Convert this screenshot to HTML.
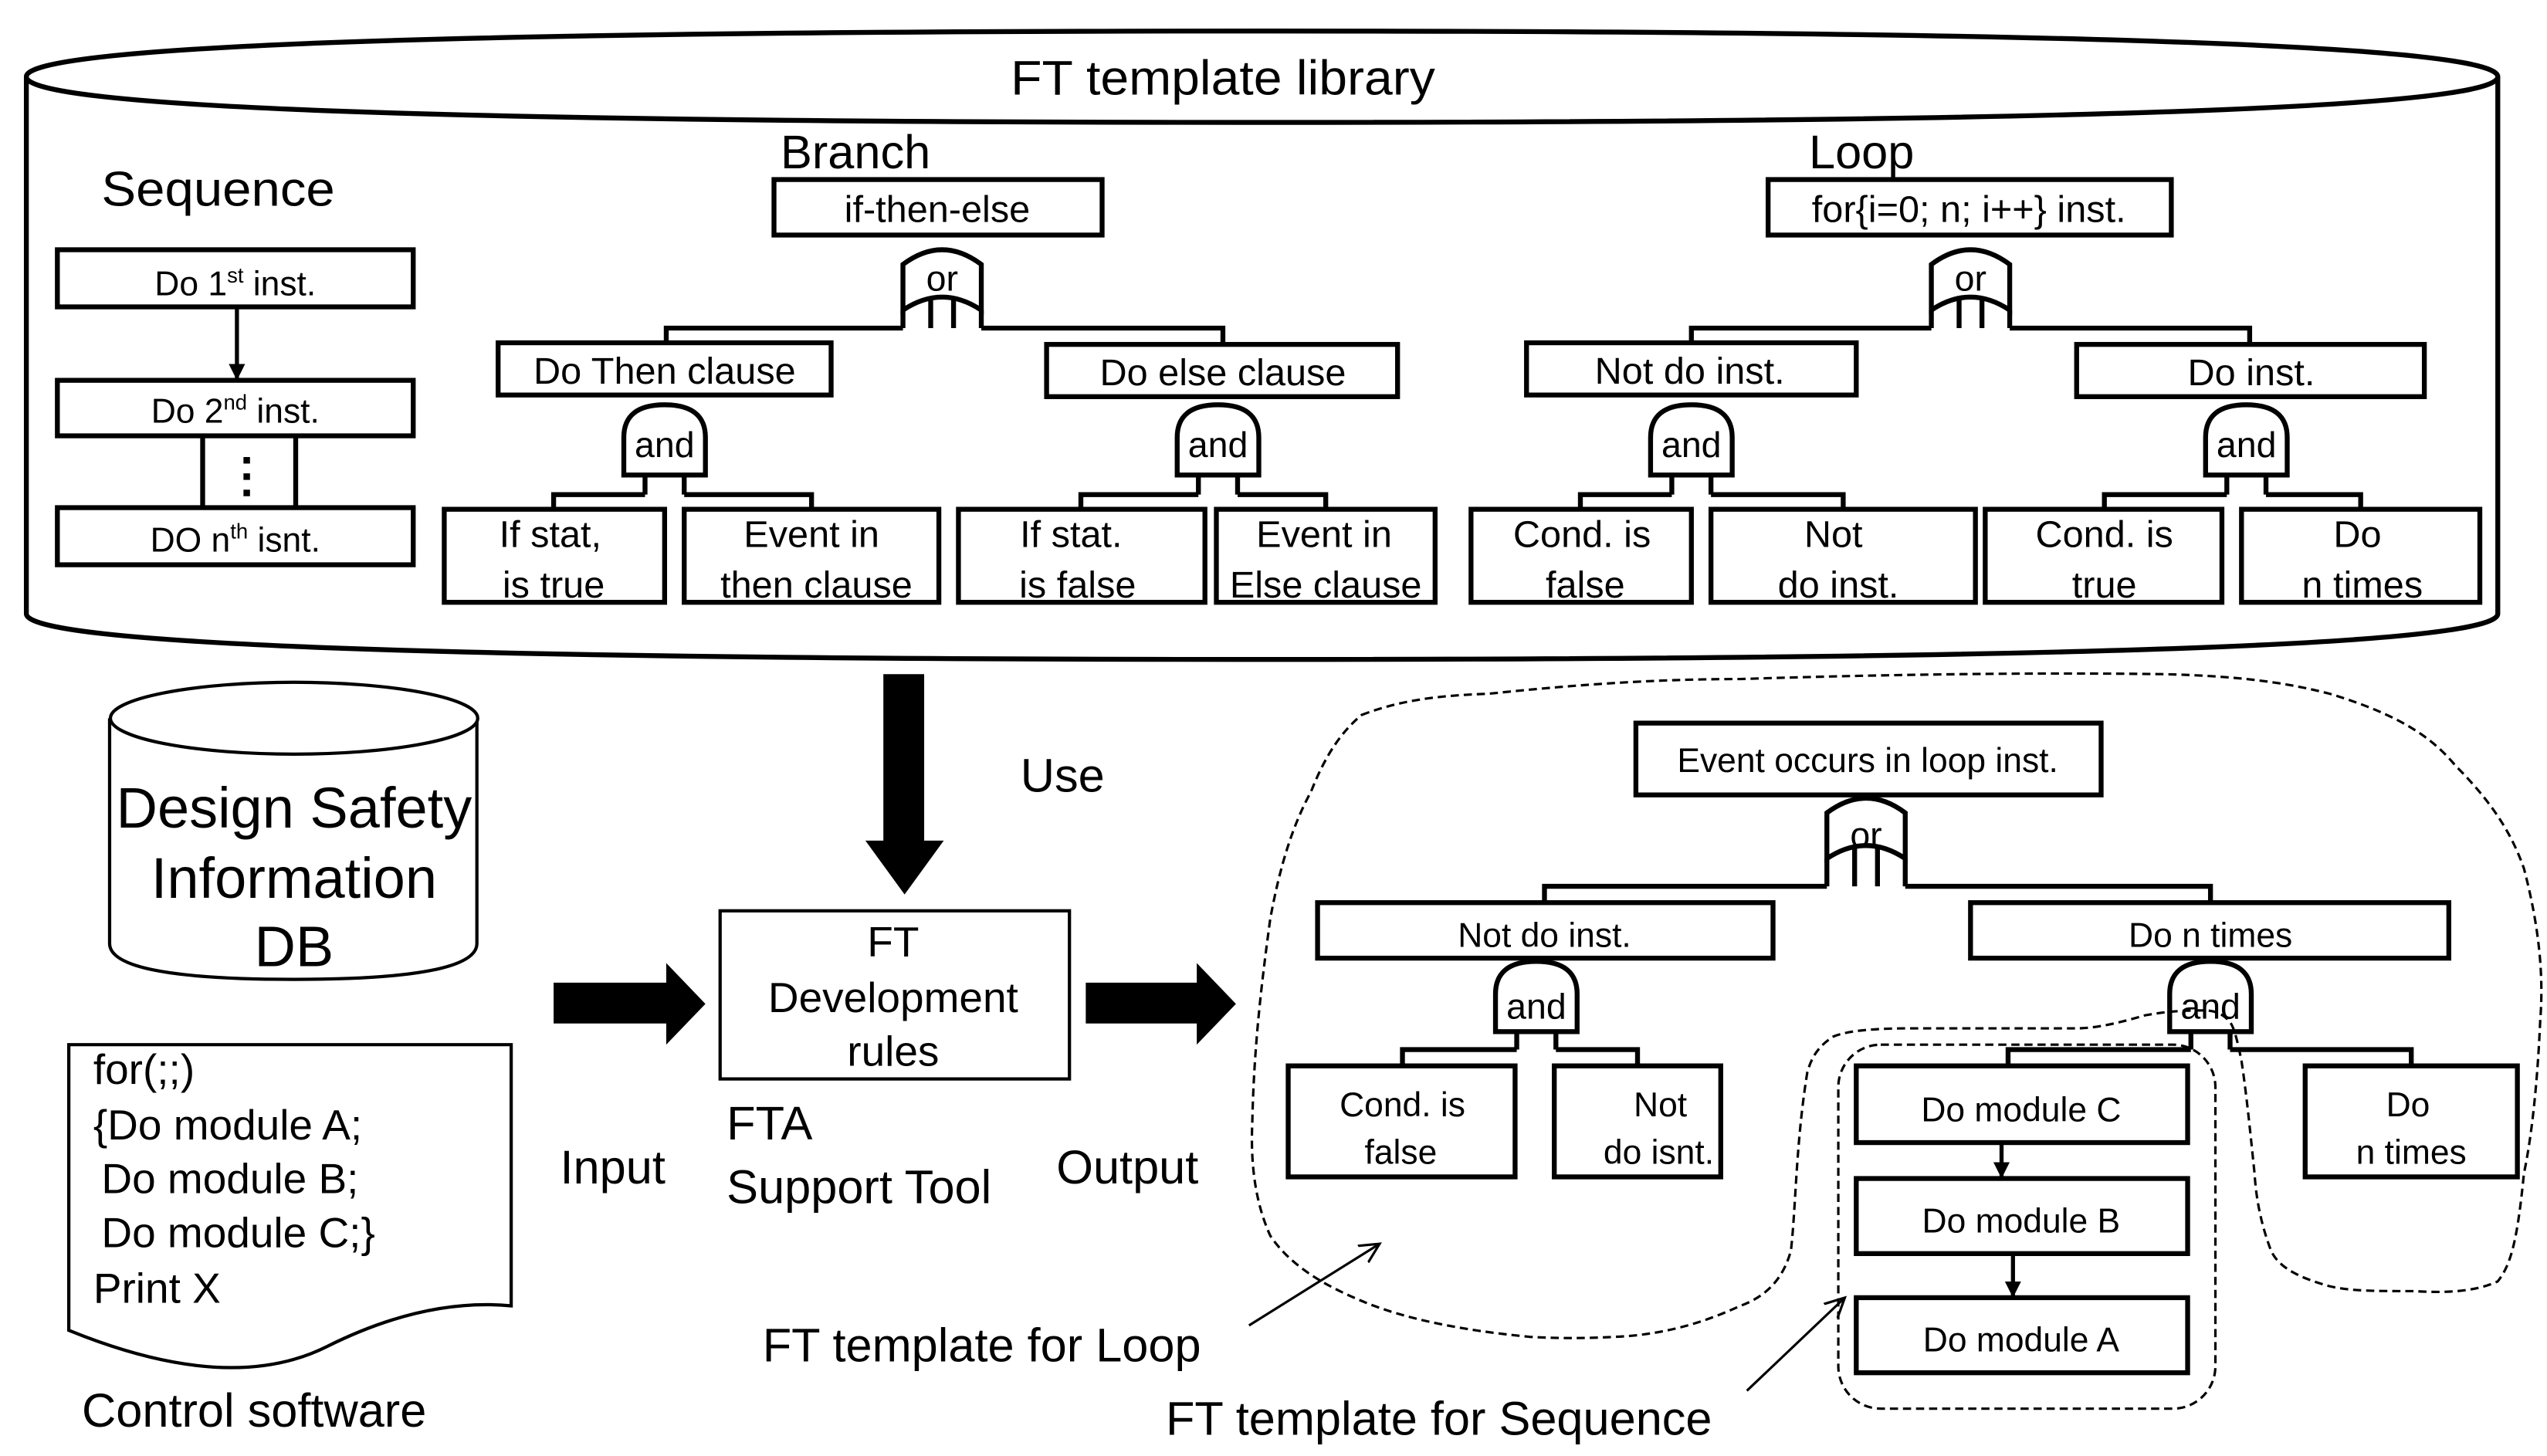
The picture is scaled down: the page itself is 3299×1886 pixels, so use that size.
<!DOCTYPE html>
<html><head><meta charset="utf-8"><style>
html,body{margin:0;padding:0;background:#fff;}
svg{display:block;}
text{font-family:"Liberation Sans",Arial,sans-serif;fill:#000;}
</style></head><body>
<svg width="3299" height="1886" viewBox="0 0 1560 892" xmlns="http://www.w3.org/2000/svg">
<defs>
<marker id="ah" markerWidth="10" markerHeight="10" refX="9" refY="5" orient="auto" markerUnits="userSpaceOnUse"><path d="M0,0 L10,5 L0,10 Z" fill="#000"/></marker>
<marker id="oa" markerWidth="14" markerHeight="14" refX="12" refY="7" orient="auto" markerUnits="userSpaceOnUse"><path d="M0,1 L12,7 L0,13" fill="none" stroke="#000" stroke-width="1.5"/></marker>
</defs>
<rect width="1560" height="892" fill="#fff"/>

<!-- Big cylinder -->
<g fill="none" stroke="#000" stroke-width="3">
<path d="M16,47 Q16,19 773,19 Q1530,19 1530,47 Q1530,75 773,75 Q16,75 16,47 Z" fill="#fff"/>
<path d="M16,47 V376 Q16,404 773,404 Q1530,404 1530,376 V47"/>
</g>
<text x="749" y="58" font-size="30" text-anchor="middle" textLength="260" lengthAdjust="spacingAndGlyphs">FT template library</text>

<!-- Sequence -->
<text x="62" y="126" font-size="30" textLength="143" lengthAdjust="spacingAndGlyphs">Sequence</text>
<g fill="#fff" stroke="#000" stroke-width="3">
<rect x="35" y="153" width="218" height="35"/>
<rect x="35" y="233" width="218" height="34"/>
<rect x="35" y="311" width="218" height="35"/>
</g>
<line x1="145" y1="188" x2="145" y2="232" stroke="#000" stroke-width="2.5" marker-end="url(#ah)"/>
<path d="M124,267 V311 M181,267 V311" stroke="#000" stroke-width="3"/>
<rect x="149" y="280" width="4" height="4"/><rect x="149" y="290" width="4" height="4"/><rect x="149" y="300" width="4" height="4"/>
<text x="144" y="181" font-size="21" text-anchor="middle">Do 1<tspan font-size="13" dy="-8">st</tspan><tspan dy="8"> inst.</tspan></text>
<text x="144" y="259" font-size="21" text-anchor="middle">Do 2<tspan font-size="13" dy="-8">nd</tspan><tspan dy="8"> inst.</tspan></text>
<text x="144" y="338" font-size="21" text-anchor="middle">DO n<tspan font-size="13" dy="-8">th</tspan><tspan dy="8"> isnt.</tspan></text>

<!-- Branch -->
<text x="478" y="103" font-size="29">Branch</text>
<text x="1108" y="103" font-size="29">Loop</text>
<g fill="#fff" stroke="#000" stroke-width="3">
<rect x="474" y="110" width="201" height="34"/>
<rect x="305" y="210" width="204" height="32"/>
<rect x="641" y="211" width="215" height="32"/>
<rect x="272" y="312" width="135" height="57"/>
<rect x="419" y="312" width="156" height="57"/>
<rect x="587" y="312" width="151" height="57"/>
<rect x="745" y="312" width="134" height="57"/>
<rect x="1083" y="110" width="247" height="34"/>
<rect x="935" y="210" width="202" height="32"/>
<rect x="1272" y="211" width="213" height="32"/>
<rect x="901" y="312" width="135" height="57"/>
<rect x="1048" y="312" width="162" height="57"/>
<rect x="1216" y="312" width="145" height="57"/>
<rect x="1373" y="312" width="146" height="57"/>
</g>
<g font-size="23" text-anchor="middle">
<text x="574" y="136">if-then-else</text>
<text x="407" y="235">Do Then clause</text>
<text x="749" y="236">Do else clause</text>
<text x="337" y="335">If stat,</text><text x="339" y="366">is true</text>
<text x="497" y="335">Event in</text><text x="500" y="366">then clause</text>
<text x="656" y="335">If stat.</text><text x="660" y="366">is false</text>
<text x="811" y="335">Event in</text><text x="812" y="366">Else clause</text>
<text x="1206" y="136">for{i=0; n; i++} inst.</text>
<text x="1035" y="235">Not do inst.</text>
<text x="1379" y="236">Do inst.</text>
<text x="969" y="335">Cond. is</text><text x="971" y="366">false</text>
<text x="1123" y="335">Not</text><text x="1126" y="366">do inst.</text>
<text x="1289" y="335">Cond. is</text><text x="1289" y="366">true</text>
<text x="1444" y="335">Do</text><text x="1447" y="366">n times</text>
</g>

<!-- gates top library -->
<g stroke="#000" stroke-width="3" fill="#fff">
<g transform="translate(577,152)"><path d="M-24,38 L-24,10 Q0,-8 24,10 L24,38 Q0,22 -24,38 Z"/><path d="M-24,38 V49 M-7,31 V49 M7,31 V49 M24,38 V49" fill="none"/></g>
<g transform="translate(1207,152)"><path d="M-24,38 L-24,10 Q0,-8 24,10 L24,38 Q0,22 -24,38 Z"/><path d="M-24,38 V49 M-7,31 V49 M7,31 V49 M24,38 V49" fill="none"/></g>
<g transform="translate(407,248)"><path d="M-25,43 V20 Q-25,0 0,0 Q25,0 25,20 V43 Z"/><path d="M-12,43 V55 M12,43 V55" fill="none"/></g>
<g transform="translate(746,248)"><path d="M-25,43 V20 Q-25,0 0,0 Q25,0 25,20 V43 Z"/><path d="M-12,43 V55 M12,43 V55" fill="none"/></g>
<g transform="translate(1036,248)"><path d="M-25,43 V20 Q-25,0 0,0 Q25,0 25,20 V43 Z"/><path d="M-12,43 V55 M12,43 V55" fill="none"/></g>
<g transform="translate(1376,248)"><path d="M-25,43 V20 Q-25,0 0,0 Q25,0 25,20 V43 Z"/><path d="M-12,43 V55 M12,43 V55" fill="none"/></g>
</g>
<g stroke="#000" stroke-width="3" fill="none">
<path d="M553,201 H408 V210 M601,201 H749 V211"/>
<path d="M1183,201 H1036 V210 M1231,201 H1378 V211"/>
<path d="M395,303 H339 V312 M419,303 H497 V312"/>
<path d="M734,303 H662 V312 M758,303 H812 V312"/>
<path d="M1024,303 H968 V312 M1048,303 H1129 V312"/>
<path d="M1364,303 H1289 V312 M1388,303 H1446 V312"/>
</g>
<g font-size="22" text-anchor="middle">
<text x="577" y="178">or</text><text x="1207" y="178">or</text>
<text x="407" y="280">and</text><text x="746" y="280">and</text>
<text x="1036" y="280">and</text><text x="1376" y="280">and</text>
</g>

<!-- DB cylinder -->
<g stroke="#000" stroke-width="2" fill="#fff">
<path d="M67,440 V578 Q67,600 180,600 Q292,600 292,578 V440"/>
<ellipse cx="180" cy="440" rx="112.5" ry="22"/>
</g>
<g font-size="35" text-anchor="middle">
<text x="180" y="507">Design Safety</text>
<text x="180" y="550">Information</text>
<text x="180" y="592">DB</text>
</g>

<!-- document -->
<path d="M42,640 H313 V800 Q260,795 200,825 Q140,855 42,815 Z" fill="#fff" stroke="#000" stroke-width="2"/>
<g font-size="26">
<text x="57" y="664">for(;;)</text>
<text x="57" y="698">{Do module A;</text>
<text x="62" y="731">Do module B;</text>
<text x="62" y="764">Do module C;}</text>
<text x="57" y="798">Print X</text>
<text x="50" y="874" font-size="29">Control software</text>
</g>

<!-- big arrows -->
<path d="M541,413 H566 V515 H578 L554,548 L530,515 H541 Z"/>
<path d="M339,602 H408 V590 L432,615 L408,640 V627 H339 Z"/>
<path d="M665,602 H733 V590 L757,615 L733,640 V627 H665 Z"/>
<text x="625" y="485" font-size="29">Use</text>
<rect x="441" y="558" width="214" height="103" fill="#fff" stroke="#000" stroke-width="2"/>
<g font-size="26" text-anchor="middle">
<text x="547" y="586">FT</text>
<text x="547" y="620">Development</text>
<text x="547" y="653">rules</text>
</g>
<g font-size="29">
<text x="343" y="725">Input</text>
<text x="445" y="698">FTA</text>
<text x="445" y="737">Support Tool</text>
<text x="647" y="725">Output</text>
<text x="467" y="834">FT template for Loop</text>
<text x="714" y="879">FT template for Sequence</text>
</g>
<line x1="765" y1="812" x2="845" y2="762" stroke="#000" stroke-width="1.5" marker-end="url(#oa)"/>
<line x1="1070" y1="852" x2="1130" y2="795" stroke="#000" stroke-width="1.5" marker-end="url(#oa)"/>

<!-- right tree -->
<g fill="#fff" stroke="#000" stroke-width="3">
<rect x="1002" y="443" width="285" height="44"/>
<rect x="807" y="553" width="279" height="34"/>
<rect x="1207" y="553" width="293" height="34"/>
<rect x="789" y="653" width="139" height="68"/>
<rect x="952" y="653" width="102" height="68"/>
<rect x="1412" y="653" width="130" height="68"/>
<rect x="1137" y="653" width="203" height="47"/>
<rect x="1137" y="722" width="203" height="46"/>
<rect x="1137" y="795" width="203" height="46"/>
<g transform="translate(1143,488)"><path d="M-24,38 L-24,10 Q0,-8 24,10 L24,38 Q0,22 -24,38 Z"/><path d="M-24,38 V55 M-7,31 V55 M7,31 V55 M24,38 V55" fill="none"/></g>
<g transform="translate(941,589)"><path d="M-25,43 V20 Q-25,0 0,0 Q25,0 25,20 V43 Z"/><path d="M-12,43 V54 M12,43 V54" fill="none"/></g>
<g transform="translate(1354,589)"><path d="M-25,43 V20 Q-25,0 0,0 Q25,0 25,20 V43 Z"/><path d="M-12,43 V54 M12,43 V54" fill="none"/></g>
</g>
<g stroke="#000" stroke-width="3" fill="none">
<path d="M1119,543 H946 V553 M1167,543 H1354 V553"/>
<path d="M929,643 H859 V653 M953,643 H1003 V653"/>
<path d="M1342,643 H1230 V653 M1366,643 H1477 V653"/>
</g>
<line x1="1226" y1="700" x2="1226" y2="721" stroke="#000" stroke-width="2.5" marker-end="url(#ah)"/>
<line x1="1233" y1="768" x2="1233" y2="794" stroke="#000" stroke-width="2.5" marker-end="url(#ah)"/>
<g font-size="21" text-anchor="middle">
<text x="1144" y="473">Event occurs in loop inst.</text>
<text x="1143" y="519" font-size="22">or</text>
<text x="946" y="580">Not do inst.</text>
<text x="1354" y="580">Do n times</text>
<text x="941" y="624" font-size="22">and</text>
<text x="1354" y="624" font-size="22">and</text>
<text x="859" y="684">Cond. is</text><text x="858" y="713">false</text>
<text x="1017" y="684">Not</text><text x="1016" y="713">do isnt.</text>
<text x="1475" y="684">Do</text><text x="1477" y="713">n times</text>
<text x="1238" y="687">Do module C</text>
<text x="1238" y="755">Do module B</text>
<text x="1238" y="828">Do module A</text>
</g>

<!-- dashed outlines -->
<g fill="none" stroke="#000" stroke-width="1.5" stroke-dasharray="5,3">
<path d="M834,438 C860,428 885,426 912,425 C960,420 1010,416 1066,416 C1160,413 1250,412 1324,413 C1370,414 1400,418 1427,425 C1470,438 1490,452 1504,469 C1530,495 1540,515 1546,532 C1556,570 1558,600 1556,625 C1554,670 1550,700 1546,719 C1542,760 1538,775 1530,785 C1515,792 1495,792 1479,791 C1455,791 1440,791 1427,788 C1405,782 1395,775 1391,766 C1385,750 1382,735 1381,719 C1378,690 1376,670 1373,650 C1370,635 1368,628 1365,625 C1360,620 1355,619 1350,619 C1335,619 1325,620 1314,622 C1300,626 1285,630 1272,630 C1240,630 1200,630 1169,630 C1145,630 1130,632 1123,635 C1112,642 1109,650 1107,657 C1100,700 1100,740 1097,766 C1092,785 1080,795 1066,800 C1040,812 1015,818 989,819 C970,820 955,820 937,819 C895,815 860,808 834,797 C805,785 788,772 778,757 C768,735 766,710 767,688 C768,640 773,600 778,563 C784,530 792,505 803,485 C812,462 822,448 834,438 Z"/>
<rect x="1126" y="640" width="231" height="223" rx="26" ry="26"/>
</g>
</svg>
</body></html>
